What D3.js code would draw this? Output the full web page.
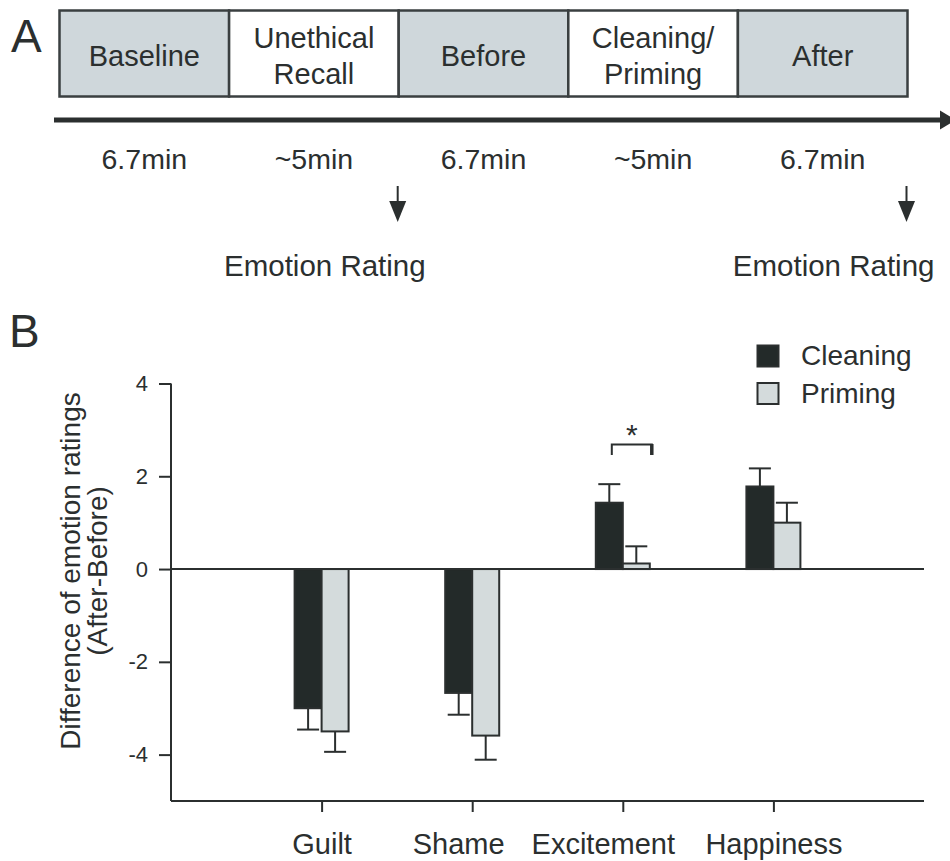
<!DOCTYPE html>
<html>
<head>
<meta charset="utf-8">
<script src="https://cdn.jsdelivr.net/npm/d3@7"></script>
<style>
  body { margin: 0; background: #fff; }
  svg { display: block; font-family: "Liberation Sans", Arial, sans-serif; }
</style>
</head>
<body>
<svg width="950" height="861"></svg>
<script>
// Panel A: phases of the procedure
const phases = [["Baseline"], ["Unethical", "Recall"], ["Before"], ["Cleaning/", "Priming"], ["After"]];
const phaseShaded = [true, false, true, false, true];
const durations = ["6.7min", "~5min", "6.7min", "~5min", "6.7min"];
const ratingAfter = [1, 4];

// Panel B: bars
const categories = ["Guilt", "Shame", "Excitement", "Happiness"];
const seriesNames = ["Cleaning", "Priming"];
const cleaning = [-3.0, -2.67, 1.43, 1.78];
const cleaningErr = [0.46, 0.47, 0.40, 0.39];
const priming = [-3.5, -3.59, 0.12, 1.0];
const primingErr = [0.44, 0.52, 0.37, 0.43];
const yTicks = [-4, -2, 0, 2, 4];

const ink = "#2b2f2f";
const dark = "#232a29";
const light = "#d4dbdc";
const boxGray = "#cfd7db";

const svg = d3.select("svg");

// ---------- Panel A ----------
svg.append("text").attr("x", 11).attr("y", 52).text("A")
  .style("font-size", "46px").style("fill", ink);

const xPhase = d3.scaleBand().domain(d3.range(phases.length)).range([59.5, 907.5]);

const phaseG = svg.append("g");
phaseG.selectAll("rect")
  .data(phases)
  .enter()
  .append("rect")
  .attr("x", (d, i) => xPhase(i))
  .attr("y", 10.5)
  .attr("width", xPhase.bandwidth())
  .attr("height", 86)
  .attr("fill", (d, i) => phaseShaded[i] ? boxGray : "#fff")
  .attr("stroke", "#3a3f40")
  .attr("stroke-width", 2.5);

phaseG.selectAll(".phaseText")
  .data(phases)
  .enter()
  .append("text")
  .attr("class", "phaseText")
  .attr("x", (d, i) => xPhase(i) + xPhase.bandwidth() / 2)
  .attr("y", d => d.length === 1 ? 66 : 48)
  .style("font-size", "29px")
  .style("text-anchor", "middle")
  .style("fill", ink)
  .each(function(d) {
    const t = d3.select(this);
    d.forEach((line, j) => {
      t.append("tspan")
        .attr("x", t.attr("x"))
        .attr("dy", j === 0 ? 0 : 35.5)
        .text(line);
    });
  });

// time arrow
svg.append("line")
  .attr("x1", 54).attr("x2", 942)
  .attr("y1", 120).attr("y2", 120)
  .attr("stroke", ink).attr("stroke-width", 5);
svg.append("path")
  .attr("d", "M940,110.5 L956,120 L940,129.5 Z")
  .attr("fill", ink);

// durations
svg.selectAll(".dur")
  .data(durations)
  .enter()
  .append("text")
  .attr("class", "dur")
  .attr("x", (d, i) => xPhase(i) + xPhase.bandwidth() / 2)
  .attr("y", 169)
  .text(d => d)
  .style("font-size", "28.5px")
  .style("text-anchor", "middle")
  .style("fill", ink);

// emotion rating arrows
const ratingG = svg.selectAll(".rating")
  .data(ratingAfter)
  .enter()
  .append("g")
  .attr("class", "rating")
  .attr("transform", i => `translate(${xPhase(i) + xPhase.bandwidth() - 1},0)`);

ratingG.append("line")
  .attr("x1", 0).attr("x2", 0)
  .attr("y1", 186).attr("y2", 205)
  .attr("stroke", ink).attr("stroke-width", 2);
ratingG.append("path")
  .attr("d", "M-8.5,201 L8.5,201 L0,222 Z")
  .attr("fill", ink);
ratingG.append("text")
  .attr("x", 28)
  .attr("y", 276)
  .text("Emotion Rating")
  .style("font-size", "29.5px")
  .style("text-anchor", "end")
  .style("fill", ink);

// ---------- Panel B ----------
svg.append("text").attr("x", 9).attr("y", 347).text("B")
  .style("font-size", "46px").style("fill", ink);

const y = d3.scaleLinear().domain([-5, 4]).range([801, 383.5]);
const x0 = d3.scalePoint().domain(categories).range([171, 924]).padding(1);
const x1 = d3.scaleBand().domain(seriesNames).range([-27, 27]).paddingInner(0);
const errW = 22;

const series = [
  { name: "Cleaning", values: cleaning, err: cleaningErr, fill: dark },
  { name: "Priming", values: priming, err: primingErr, fill: light }
];

const chart = svg.append("g");

// y axis (plain hyphen for negatives, like the original)
const yAxis = chart.append("g")
  .attr("transform", "translate(171,0)")
  .call(d3.axisLeft(y).tickValues(yTicks).tickSize(12).tickPadding(11).tickFormat(d => String(d)));
yAxis.select(".domain").attr("d", `M0,${y(4)}V${y(-5)}`);

// x axis at the bottom
const xAxis = chart.append("g")
  .attr("transform", "translate(0,801)")
  .call(d3.axisBottom(x0).tickSize(11).tickPadding(21));
xAxis.select(".domain").attr("d", "M171,0H924");

[yAxis, xAxis].forEach(a => {
  a.selectAll("path, line").attr("stroke", ink).attr("stroke-width", 2);
  a.selectAll("text").style("fill", ink).style("font-family", "Liberation Sans, Arial, sans-serif");
});
yAxis.selectAll("text").style("font-size", "22px");
// the original labels of the middle two categories sit a bit left of their ticks
const labelShift = { Guilt: 0, Shame: -14, Excitement: -20, Happiness: 0 };
xAxis.selectAll("text")
  .style("font-size", "29px")
  .attr("dx", d => labelShift[d]);

// error bars (drawn before bars so the bar edge covers the stem)
series.forEach(s => {
  const g = chart.append("g");
  categories.forEach((c, i) => {
    const cx = x0(c) + x1(s.name) + x1.bandwidth() / 2;
    const v = s.values[i];
    const end = v >= 0 ? v + s.err[i] : v - s.err[i];
    g.append("line")
      .attr("x1", cx).attr("x2", cx)
      .attr("y1", y(v)).attr("y2", y(end))
      .attr("stroke", ink).attr("stroke-width", 2);
    g.append("line")
      .attr("x1", cx - errW / 2).attr("x2", cx + errW / 2)
      .attr("y1", y(end)).attr("y2", y(end))
      .attr("stroke", ink).attr("stroke-width", 2);
  });
});

// bars
series.forEach(s => {
  chart.append("g")
    .selectAll("rect")
    .data(categories)
    .enter()
    .append("rect")
    .attr("x", c => x0(c) + x1(s.name))
    .attr("y", (c, i) => y(Math.max(0, s.values[i])))
    .attr("width", x1.bandwidth())
    .attr("height", (c, i) => Math.abs(y(s.values[i]) - y(0)))
    .attr("fill", s.fill)
    .attr("stroke", ink)
    .attr("stroke-width", 2);
});

// zero line
chart.append("line")
  .attr("x1", 171).attr("x2", 924)
  .attr("y1", y(0)).attr("y2", y(0))
  .attr("stroke", ink).attr("stroke-width", 2);

// significance bracket on Excitement
const bx = x0("Excitement");
chart.append("path")
  .attr("d", `M${bx - 11},455 V444.5 H${bx + 29} V455`)
  .attr("fill", "none")
  .attr("stroke", ink)
  .attr("stroke-width", 2);
chart.append("line")
  .attr("x1", bx + 29).attr("x2", bx + 29)
  .attr("y1", 444).attr("y2", 455)
  .attr("stroke", ink).attr("stroke-width", 3.5);
chart.append("text")
  .attr("x", bx + 9)
  .attr("y", 445)
  .text("*")
  .style("font-size", "30px")
  .style("text-anchor", "middle")
  .style("fill", ink);

// y label
const yLab = svg.append("text")
  .attr("transform", "translate(0,571) rotate(-90)")
  .style("font-size", "28px")
  .style("text-anchor", "middle")
  .style("fill", ink);
yLab.append("tspan").attr("x", 0).attr("y", 80).text("Difference of emotion ratings");
yLab.append("tspan").attr("x", 0).attr("y", 107).text("(After-Before)");

// legend
const legend = svg.selectAll(".legend")
  .data(series)
  .enter()
  .append("g")
  .attr("class", "legend")
  .attr("transform", (d, i) => `translate(757,${345 + i * 37.5})`);
legend.append("rect")
  .attr("x", 0.5).attr("y", 0.5)
  .attr("width", 21).attr("height", 21)
  .attr("fill", d => d.fill)
  .attr("stroke", ink)
  .attr("stroke-width", 2);
legend.append("text")
  .attr("x", 44)
  .attr("y", 20)
  .text(d => d.name)
  .style("font-size", "28px")
  .style("fill", ink);
</script>
</body>
</html>
